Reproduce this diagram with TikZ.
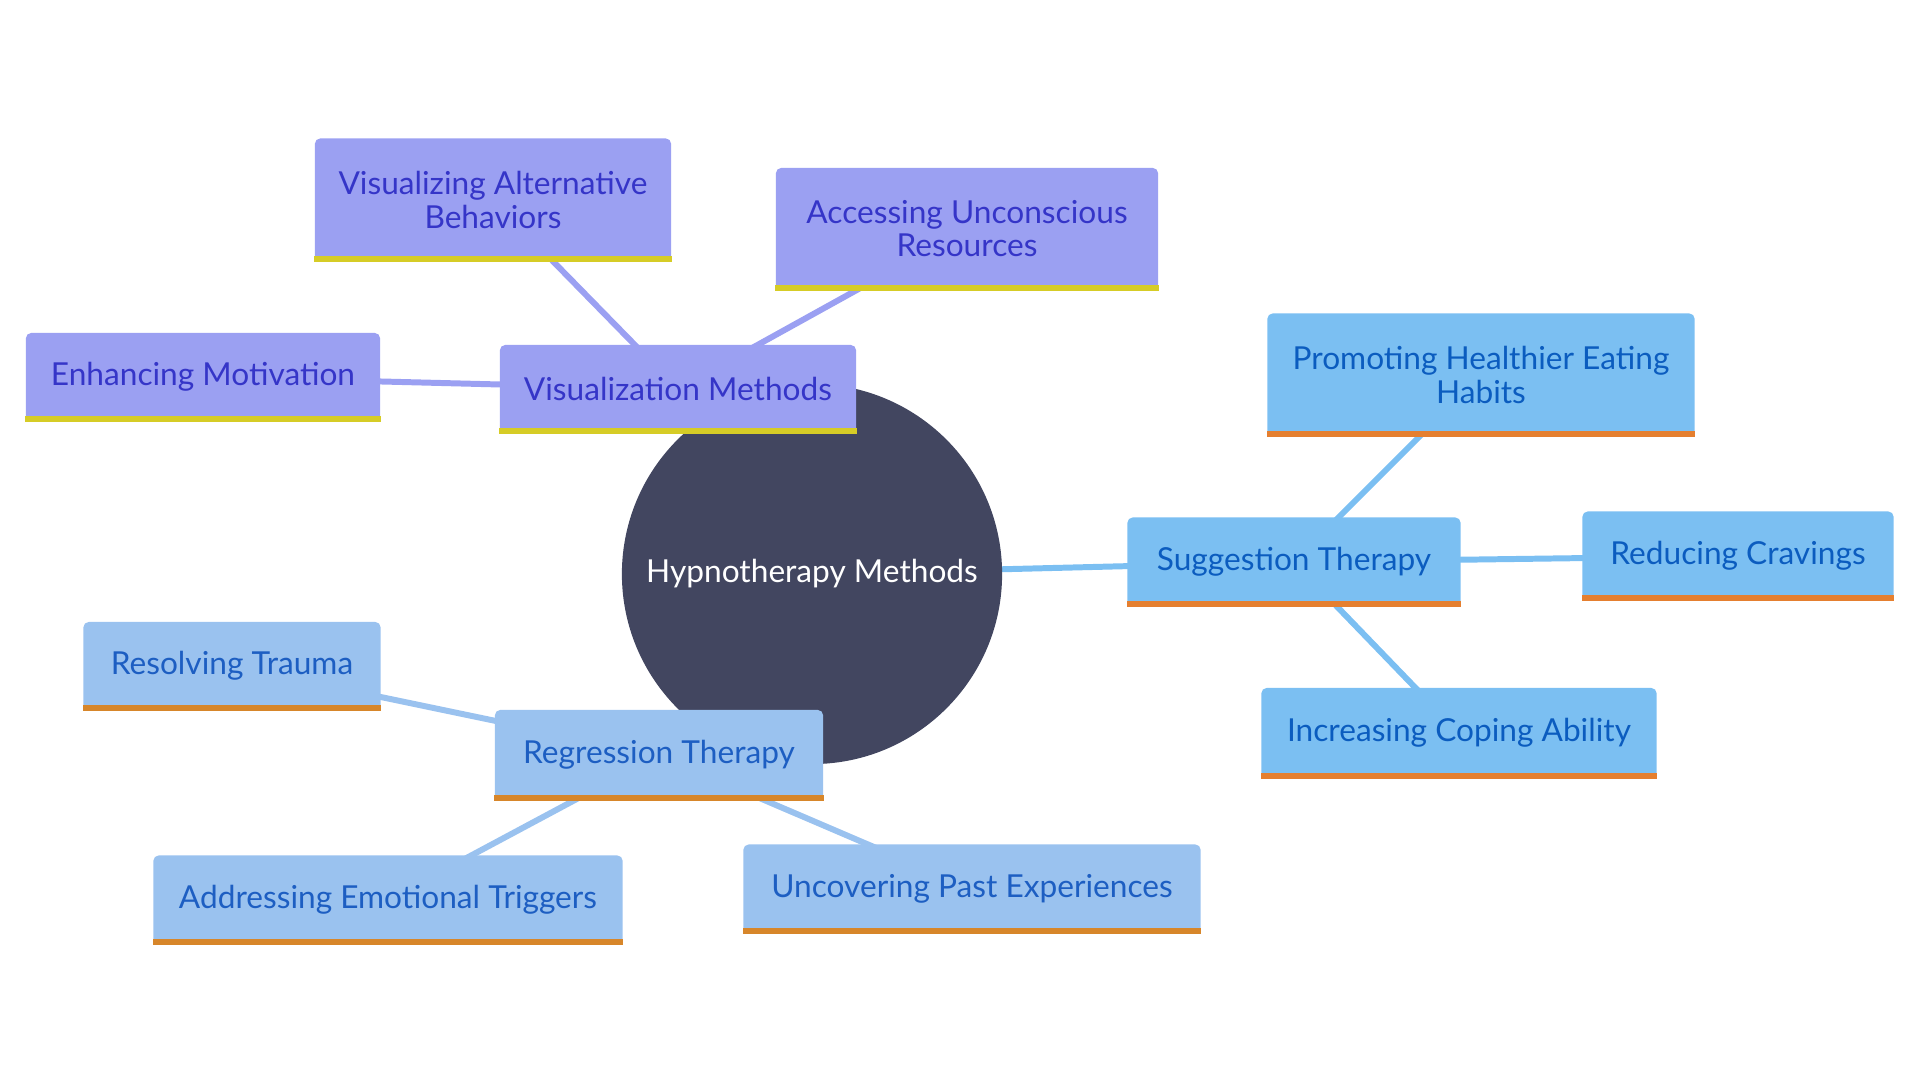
\documentclass[tikz,border=0pt]{standalone}
\usepackage{fontspec}
\setmainfont{Lato}
\usetikzlibrary{backgrounds}

\definecolor{hubfill}{HTML}{424660}
\definecolor{vizfill}{HTML}{9BA0F2}
\definecolor{viztext}{HTML}{3535C8}
\definecolor{vizbar}{HTML}{D6CC26}
\definecolor{sugfill}{HTML}{7BBFF2}
\definecolor{sugtext}{HTML}{0B5CBF}
\definecolor{sugbar}{HTML}{E57F2F}
\definecolor{regfill}{HTML}{9AC2EF}
\definecolor{regtext}{HTML}{1D5EC2}
\definecolor{regbar}{HTML}{D7862A}

\tikzset{
  topic/.style={rectangle, rounded corners=1.5pt, align=center, inner sep=0pt,
    font=\fontsize{9pt}{9.4pt}\selectfont},
  vizbox/.style={topic, fill=vizfill, text=viztext},
  sugbox/.style={topic, fill=sugfill, text=sugtext},
  regbox/.style={topic, fill=regfill, text=regtext},
  vizline/.style={draw=vizfill, line width=1.7pt},
  sugline/.style={draw=sugfill, line width=1.7pt},
  regline/.style={draw=regfill, line width=1.7pt}
}

\begin{document}
\begin{tikzpicture}[x=0.01cm, y=-0.01cm]
  \useasboundingbox (0,0) rectangle (1920,1080);

  % centre
  \node[circle, fill=hubfill, text=white, minimum size=3.8cm, inner sep=0pt,
        font=\fontsize{9pt}{9.4pt}\selectfont] (hub) at (812,574) {Hypnotherapy Methods};

  % visualization branch
  \node[vizbox, minimum width=3.56cm, minimum height=0.88cm] (viz) at (678,389) {Visualization Methods};
  \node[vizbox, minimum width=3.56cm, minimum height=1.23cm] (altbeh) at (493,200) {Visualizing Alternative\\Behaviors};
  \node[vizbox, minimum width=3.82cm, minimum height=1.22cm] (uncres) at (967,229) {Accessing Unconscious\\Resources};
  \node[vizbox, minimum width=3.54cm, minimum height=0.88cm] (motiv) at (203,377) {Enhancing Motivation};

  % suggestion branch
  \node[sugbox, minimum width=3.33cm, minimum height=0.89cm] (sugg) at (1294,562) {Suggestion Therapy};
  \node[sugbox, minimum width=4.27cm, minimum height=1.23cm] (eating) at (1481,375) {Promoting Healthier Eating\\Habits};
  \node[sugbox, minimum width=3.11cm, minimum height=0.89cm] (crav) at (1738,556) {Reducing Cravings};
  \node[sugbox, minimum width=3.95cm, minimum height=0.90cm] (coping) at (1459,733) {Increasing Coping Ability};

  % regression branch
  \node[regbox, minimum width=3.28cm, minimum height=0.90cm] (regr) at (659,755) {Regression Therapy};
  \node[regbox, minimum width=2.97cm, minimum height=0.88cm] (trauma) at (232,666) {Resolving Trauma};
  \node[regbox, minimum width=4.69cm, minimum height=0.89cm] (trig) at (388,900) {Addressing Emotional Triggers};
  \node[regbox, minimum width=4.57cm, minimum height=0.89cm] (past) at (972,889) {Uncovering Past Experiences};

  % bottom bars
  \foreach \n/\c in {viz/vizbar, altbeh/vizbar, uncres/vizbar, motiv/vizbar,
                     sugg/sugbar, eating/sugbar, crav/sugbar, coping/sugbar,
                     regr/regbar, trauma/regbar, trig/regbar, past/regbar}
    \fill[\c] (\n.south west) rectangle ([yshift=0.06cm]\n.south east);

  \begin{scope}[on background layer]
    \draw[vizline] (hub.center) -- (viz.center);
    \foreach \n in {altbeh, uncres, motiv}
      \draw[vizline] (viz.center) -- (\n.center);
    \draw[sugline] (hub.center) -- (sugg.center);
    \foreach \n in {eating, crav, coping}
      \draw[sugline] (sugg.center) -- (\n.center);
    \draw[regline] (hub.center) -- (regr.center);
    \foreach \n in {trauma, trig, past}
      \draw[regline] (regr.center) -- (\n.center);
  \end{scope}
\end{tikzpicture}
\end{document}
